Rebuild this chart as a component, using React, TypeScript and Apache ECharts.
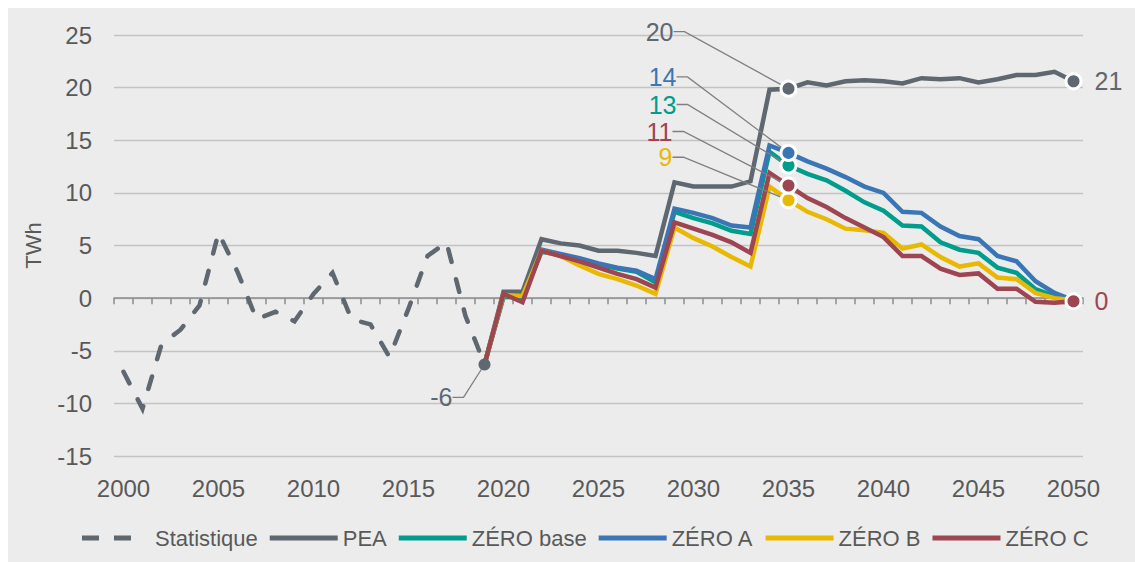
import React, { useEffect, useRef } from "react";
import * as echarts from "echarts";

const years = [
  "2000", "2001", "2002", "2003", "2004", "2005", "2006", "2007", "2008", "2009",
  "2010", "2011", "2012", "2013", "2014", "2015", "2016", "2017", "2018", "2019",
  "2020", "2021", "2022", "2023", "2024", "2025", "2026", "2027", "2028", "2029",
  "2030", "2031", "2032", "2033", "2034", "2035", "2036", "2037", "2038", "2039",
  "2040", "2041", "2042", "2043", "2044", "2045", "2046", "2047", "2048", "2049",
  "2050",
];

const yTicks = { min: -15, max: 25, interval: 5 };

// 2000 – 2019
const statistique = [
  -7.0, -10.5, -4.4, -3.0, -0.7, 6.2, 2.5, -2.0, -1.3, -2.2,
  0.4, 2.4, -2.0, -2.5, -5.6, -1.0, 4.0, 5.3, -1.7, -6.3,
];

// 2019 – 2050
const pea = [
  -6.3, 0.6, 0.6, 5.6, 5.2, 5.0, 4.5, 4.5, 4.3, 4.0,
  11.0, 10.6, 10.6, 10.6, 11.1, 19.8, 19.9, 20.5, 20.2, 20.6,
  20.7, 20.6, 20.4, 20.9, 20.8, 20.9, 20.5, 20.8, 21.2, 21.2,
  21.5, 20.6,
];
const zeroBase = [
  -6.3, 0.1, 0.1, 4.4, 4.1, 3.6, 3.2, 2.8, 2.5, 1.5,
  8.2, 7.6, 7.1, 6.4, 6.1, 13.9, 12.6, 11.8, 11.2, 10.2,
  9.1, 8.3, 6.9, 6.8, 5.3, 4.6, 4.3, 2.9, 2.4, 0.85,
  0.2, -0.2,
];
const zeroA = [
  -6.3, 0.2, 0.2, 4.6, 4.2, 3.8, 3.3, 2.9, 2.6, 1.8,
  8.5, 8.1, 7.6, 6.9, 6.7, 14.5, 13.8, 13.0, 12.3, 11.5,
  10.6, 10.0, 8.2, 8.1, 6.8, 5.9, 5.6, 4.0, 3.5, 1.6,
  0.5, -0.2,
];
const zeroB = [
  -6.3, 0.3, 0.2, 4.5, 4.0, 3.1, 2.3, 1.8, 1.2, 0.4,
  6.7, 5.7, 4.9, 3.9, 3.0, 10.6, 9.3, 8.2, 7.5, 6.6,
  6.45, 6.2, 4.7, 5.1, 3.9, 3.0, 3.3, 1.95, 1.8, 0.5,
  0.0, -0.2,
];
const zeroC = [
  -6.3, 0.4, -0.4, 4.5, 4.0, 3.5, 2.9, 2.3, 1.8, 1.0,
  7.2, 6.6, 6.0, 5.3, 4.3, 11.9, 10.7, 9.5, 8.65, 7.6,
  6.7, 5.8, 4.0, 4.0, 2.8, 2.2, 2.35, 0.9, 0.9, -0.35,
  -0.45, -0.3,
];

const seriesNames = ["Statistique", "PEA", "ZÉRO base", "ZÉRO A", "ZÉRO B", "ZÉRO C"];
const seriesStart = ["2000", "2019", "2019", "2019", "2019", "2019"];
const seriesValues = [statistique, pea, zeroBase, zeroA, zeroB, zeroC];

// Styles
const FONT = "'Liberation Sans', Arial, sans-serif";
const TEXT = "#595959";
const COLORS = ["#5F6771", "#5F6771", "#009C8C", "#3A76B5", "#E8B900", "#9D4551"];
const DASH_ICON = "path://M0,0M68,24M0,9.5h17v5h-17zM32,9.5h17v5h-17z";
const LINE_ICON = "path://M0,0M68,24M0,9.5h68v5h-68z";

type LabelCfg = { year: string; dx?: number; dy?: number; side?: "right"; border?: boolean; size?: number };
const labelCfgs: LabelCfg[][] = [
  [{ year: "2019", dx: -23, dy: 33, border: false, size: 12 }],
  [{ year: "2035", dx: -106, dy: -57 }, { year: "2050", side: "right" }],
  [{ year: "2035", dx: -103, dy: -61 }],
  [{ year: "2035", dx: -103, dy: -76 }],
  [{ year: "2035", dx: -107, dy: -43 }],
  [{ year: "2035", dx: -107, dy: -54 }, { year: "2050", side: "right" }],
];

function buildSeries(si: number) {
  const color = COLORS[si];
  const start = years.indexOf(seriesStart[si]);
  const raw: (number | null)[] = years.map(() => null);
  seriesValues[si].forEach((v, i) => {
    raw[start + i] = v;
  });
  const cfgs = labelCfgs[si];
  const cfgAt = (idx: number) => cfgs.find((c) => years.indexOf(c.year) === idx);
  const data = raw.map((v, idx) => {
    const cfg = cfgAt(idx);
    if (!cfg || v == null) return v;
    const right = cfg.side === "right";
    const noBorder = cfg.border === false;
    return {
      value: v,
      symbol: "circle",
      symbolSize: cfg.size ?? 15,
      itemStyle: {
        color,
        borderColor: noBorder ? color : "#FFFFFF",
        borderWidth: noBorder ? 0 : 3,
      },
      label: right
        ? {
            show: true,
            position: "right",
            distance: 12,
            color,
            fontSize: 25,
            fontFamily: FONT,
            formatter: (p: any) => String(Math.round(p.value)),
          }
        : {
            show: true,
            position: "inside",
            align: "right",
            verticalAlign: "middle",
            padding: [0, 9, 0, 0],
            color,
            fontSize: 25,
            fontFamily: FONT,
            formatter: (p: any) => String(Math.round(p.value)),
          },
      labelLine: {
        show: !right,
        length2: 11,
        smooth: false,
        lineStyle: { color: "#7F7F7F", width: 1.3 },
      },
    };
  });
  const dashed = si === 0;
  return {
    type: "line",
    name: seriesNames[si],
    data,
    symbol: "none",
    showSymbol: true,
    showAllSymbol: true,
    connectNulls: false,
    silent: true,
    itemStyle: { color },
    lineStyle: {
      color,
      width: 4.5,
      type: dashed ? [13, 18] : "solid",
      cap: dashed ? "round" : "butt",
      join: "miter",
    },
    emphasis: { disabled: true },
    labelLayout: (params: any) => {
      const cfg = cfgAt(params.dataIndex);
      if (cfg && cfg.side !== "right") return { dx: cfg.dx, dy: cfg.dy };
      return {};
    },
  };
}

export default function App() {
  const ref = useRef<HTMLDivElement>(null);
  useEffect(() => {
    if (!ref.current) return;
    const chart = echarts.init(ref.current, null, { renderer: "svg" });
    const option: any = {
      animation: false,
      backgroundColor: "#ECECEC",
      textStyle: { fontFamily: FONT },
      grid: { left: 106, right: 52, top: 27, bottom: 106, containLabel: false, outerBoundsMode: "none" },
      legend: {
        left: 69,
        top: 513,
        itemWidth: 68,
        itemHeight: 24,
        itemGap: 12,
        selectedMode: false,
        textStyle: { color: TEXT, fontSize: 22, fontFamily: FONT },
        data: seriesNames.map((name, i) => ({ name, icon: i === 0 ? DASH_ICON : LINE_ICON })),
      },
      xAxis: {
        type: "category",
        data: years,
        boundaryGap: true,
        axisLine: { show: true, onZero: true, lineStyle: { color: "#8C8C8C", width: 1.5 } },
        axisTick: { show: true, interval: 0, length: 6, lineStyle: { color: "#8C8C8C", width: 1.5 } },
        axisLabel: { interval: 4, margin: 20, color: TEXT, fontSize: 24, fontFamily: FONT },
        splitLine: { show: false },
      },
      yAxis: {
        type: "value",
        min: yTicks.min,
        max: yTicks.max,
        interval: yTicks.interval,
        name: "TWh",
        nameLocation: "middle",
        nameGap: 70,
        nameTextStyle: { color: TEXT, fontSize: 22, fontFamily: FONT },
        axisLine: { show: false },
        axisTick: { show: false },
        axisLabel: { color: TEXT, fontSize: 24, margin: 22, fontFamily: FONT },
        splitLine: { lineStyle: { color: "#C3C3C3", width: 1.3 } },
      },
      series: seriesNames.map((_, i) => buildSeries(i)),
    };
    chart.setOption(option);
    return () => chart.dispose();
  }, []);
  return (
    <div
      ref={ref}
      style={{ position: "absolute", left: 8, top: 8, width: 1127, height: 554, background: "#ECECEC" }}
    />
  );
}
